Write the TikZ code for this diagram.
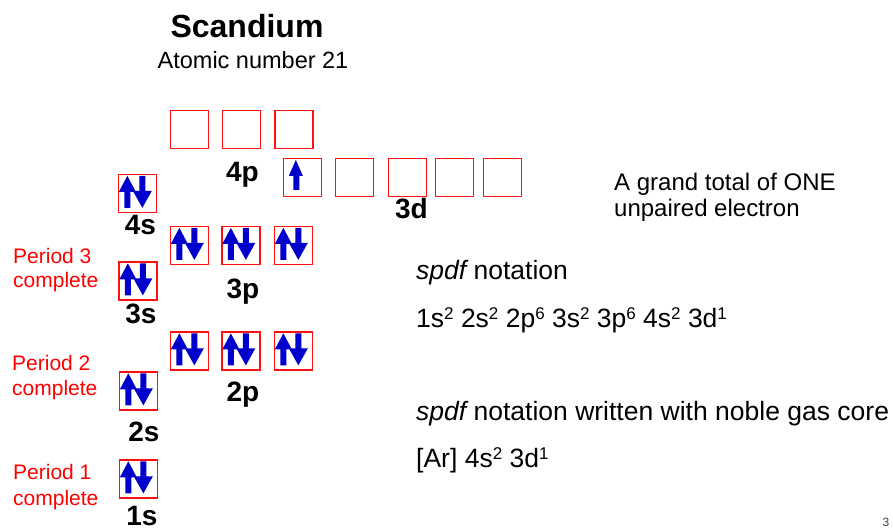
\documentclass[tikz,border=0pt]{standalone}
\usepackage{fontspec}
\setmainfont{Liberation Sans}
\definecolor{eblue}{HTML}{0000CC}
\definecolor{bred}{HTML}{FF1010}
\newcommand\sps[1]{\raisebox{7.5pt}{\fontsize{17}{17}\selectfont #1}}
\tikzset{
  obox/.style={draw=bred, line width=1.3pt, minimum size=38pt, inner sep=0pt},
  olabel/.style={font=\fontsize{28}{30}\selectfont\bfseries, anchor=base, inner sep=0pt},
  redtxt/.style={text=red, font=\fontsize{21}{26}\selectfont, anchor=base west, inner sep=0pt},
  bodytxt/.style={font=\fontsize{26.5}{30}\selectfont, anchor=base west, inner sep=0pt},
  gtxt/.style={font=\fontsize{24}{26}\selectfont, anchor=base west, inner sep=0pt}
}
\newcommand\pairarrows[1]{%
  \begin{scope}[shift={(#1.north west)}]
    \fill[eblue] (6.5,34)--(6.5,18)--(1,18)--(9.5,2)--(18,18)--(12.5,18)--(12.5,34)--cycle;
    \fill[eblue] (21.5,2)--(27.5,2)--(27.5,17)--(34,17)--(24.5,34)--(15,17)--(21.5,17)--cycle;
  \end{scope}}
\newcommand\singlearrow[1]{%
  \begin{scope}[shift={(#1.north west)}]
    \fill[eblue] (10.5,32)--(10.5,18)--(6,18)--(13,2)--(20,18)--(16.5,18)--(16.5,32)--cycle;
  \end{scope}}
\begin{document}
\begin{tikzpicture}[x=1pt,y=-1pt]
\useasboundingbox (0,0) rectangle (893,531);
% title
\node[font=\fontsize{32}{34}\selectfont\bfseries, anchor=base, inner sep=0pt] (title) at (247,37) {Scandium};
\node[font=\fontsize{23.5}{26}\selectfont, anchor=base, inner sep=0pt] (atn) at (253,68) {Atomic number 21};
% boxes
\node[obox] (s1) at (138.5,479) {};
\node[obox] (s2) at (138.5,391) {};
\node[obox] (s3) at (138,281) {};
\node[obox] (s4) at (137.5,193.5) {};
\node[obox] (p2a) at (189.5,351) {};
\node[obox] (p2b) at (241,351) {};
\node[obox] (p2c) at (293.5,351) {};
\node[obox] (p3a) at (189.5,245.5) {};
\node[obox] (p3b) at (241,245.5) {};
\node[obox] (p3c) at (293.5,245.5) {};
\node[obox] (p4a) at (189.5,129.5) {};
\node[obox] (p4b) at (241.5,129.5) {};
\node[obox] (p4c) at (294,129.5) {};
\node[obox] (d1) at (302.5,177.5) {};
\node[obox] (d2) at (354.5,177.5) {};
\node[obox] (d3) at (407.5,177.5) {};
\node[obox] (d4) at (454.5,177.5) {};
\node[obox] (d5) at (502.5,177.5) {};
% arrows
\pairarrows{s1}
\pairarrows{s2}
\pairarrows{s3}
\pairarrows{s4}
\pairarrows{p2a}
\pairarrows{p2b}
\pairarrows{p2c}
\pairarrows{p3a}
\pairarrows{p3b}
\pairarrows{p3c}
\singlearrow{d1}
% orbital labels
\node[olabel] (l1s) at (142,525) {1s};
\node[olabel] (l2s) at (144,441) {2s};
\node[olabel] (l3s) at (141,323) {3s};
\node[olabel] (l4s) at (140.5,234) {4s};
\node[olabel] (l2p) at (243,401) {2p};
\node[olabel] (l3p) at (243,298) {3p};
\node[olabel] (l4p) at (242.5,181) {4p};
\node[olabel] (l3d) at (411.5,218) {3d};
% period labels
\node[redtxt] (per3a) at (13,263) {Period 3};
\node[redtxt] (per3b) at (13,287) {complete};
\node[redtxt] (per2a) at (12,370) {Period 2};
\node[redtxt] (per2b) at (12,395) {complete};
\node[redtxt] (per1a) at (13,479) {Period 1};
\node[redtxt] (per1b) at (13,505) {complete};
% right texts
\node[gtxt] (g1) at (614,190) {A grand total of ONE};
\node[gtxt] (g2) at (614,216) {unpaired electron};
\node[bodytxt] (n1) at (416,279) {{\itshape spdf} notation};
\node[bodytxt] (n2) at (416,327) {1s\sps{2} 2s\sps{2} 2p\sps{6} 3s\sps{2} 3p\sps{6} 4s\sps{2} 3d\sps{1}};
\node[bodytxt] (n3) at (416,420) {{\itshape spdf} notation written with noble gas core};
\node[bodytxt] (n4) at (416,467) {[Ar] 4s\sps{2} 3d\sps{1}};
% page number
\node[font=\fontsize{12}{12}\selectfont, text=black!75, anchor=base, inner sep=0pt] (pg) at (886,526) {3};
\end{tikzpicture}
\end{document}
